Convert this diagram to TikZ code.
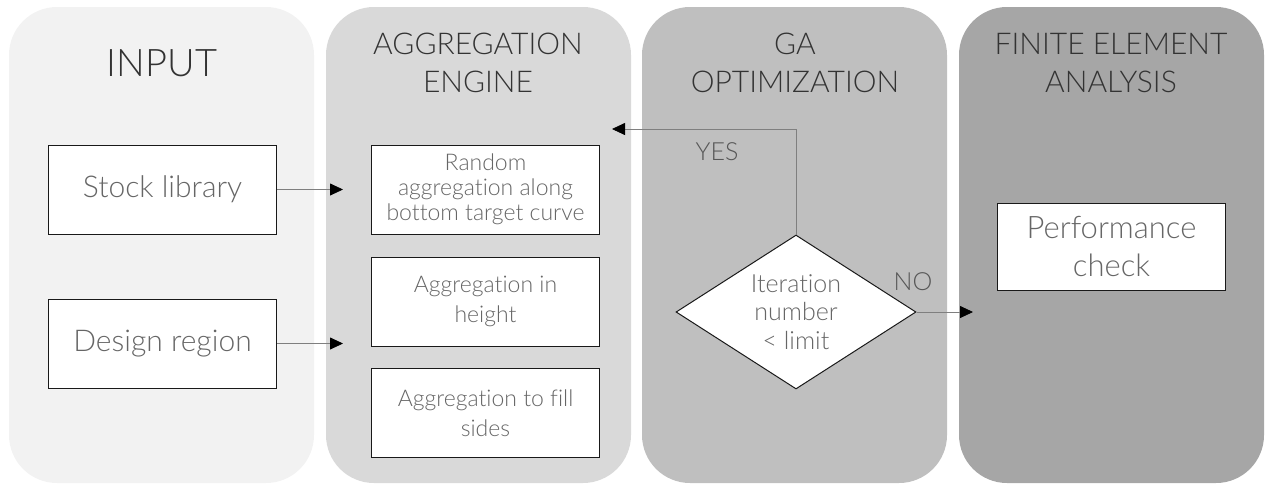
\documentclass[tikz,border=0pt]{standalone}
\usepackage{fontspec}
\setmainfont{Lato Light}[Ligatures=NoCommon]
\usetikzlibrary{arrows.meta,positioning,shapes.geometric}
\definecolor{PanelA}{HTML}{F2F2F2}
\definecolor{PanelB}{HTML}{D9D9D9}
\definecolor{PanelC}{HTML}{BFBFBF}
\definecolor{PanelD}{HTML}{A6A6A6}
\definecolor{Title}{HTML}{333333}
\definecolor{Label}{HTML}{666666}
\definecolor{Wire}{HTML}{7F7F7F}

\begin{document}
\begin{tikzpicture}[x=1pt,y=-1pt,
  head/.style={text=Title,align=center,font=\fontsize{30}{38}\selectfont},
  box/.style={draw=black!90,line width=1pt,fill=white,minimum width=228pt,minimum height=89pt,inner sep=0pt,text=Label,align=center},
  note/.style={text=Label!85!black,font=\fontsize{25}{25}\selectfont},
  flow/.style={draw=Wire,line width=0.8pt,-{Triangle[length=13pt,width=12pt,color=black]}}]
\useasboundingbox (0,0) rectangle (1266,491);
% lanes
\foreach \x/\c in {9/PanelA,326/PanelB,642/PanelC,959/PanelD} {
 \fill[\c,rounded corners=48pt] (\x,7) rectangle ++(305,476);
}
\node[head,font=\fontsize{38}{38}\selectfont] (tinput) at (162,63) {INPUT};
\node[head] (tagg) at (478,63) {AGGREGATION\\ENGINE};
\node[head] (tga) at (795,63) {GA\\OPTIMIZATION};
\node[head] (tfea) at (1111,63) {FINITE ELEMENT\\ANALYSIS};
% input
\node[box,font=\fontsize{30}{36}\selectfont] (stock) at (162.5,189.5) {Stock library};
\node[box,font=\fontsize{30}{36}\selectfont] (design) at (162.5,343.5) {Design region};
% aggregation engine
\node[box,font=\fontsize{23}{25}\selectfont] (random) at (485.5,189.5) {Random\\aggregation along\\bottom target curve};
\node[box,font=\fontsize{23}{30}\selectfont] (height) at (485.5,301.5) {Aggregation in\\height};
\node[box,font=\fontsize{23}{30}\selectfont] (sides) at (485.5,413) {Aggregation to fill\\sides};
% GA
\node[diamond,draw=black!90,line width=1pt,fill=white,text=Label,align=center,
 minimum width=240pt,minimum height=154pt,aspect=1.56,inner sep=0pt,
 font=\fontsize{25}{28.5}\selectfont] (check) at (796,312) {Iteration\\number\\< limit};
% FEA
\node[box,minimum height=87pt,font=\fontsize{31}{38}\selectfont] (perf) at (1111.5,246.5) {Performance\\check};
% connectors
\coordinate (stockin) at (343,189.5);
\coordinate (designin) at (343,343.5);
\coordinate (yesend) at (612,129);
\coordinate (noend) at (973,312);
\draw[flow] (stock.east) -- (stockin);
\draw[flow] (design.east) -- (designin);
\draw[flow] (check.north) |- (yesend);
\draw[flow] (check.east) -- (noend);
\node[note] (yes) at (717,152) {YES};
\node[note] (no) at (913,282) {NO};
\end{tikzpicture}
\end{document}
